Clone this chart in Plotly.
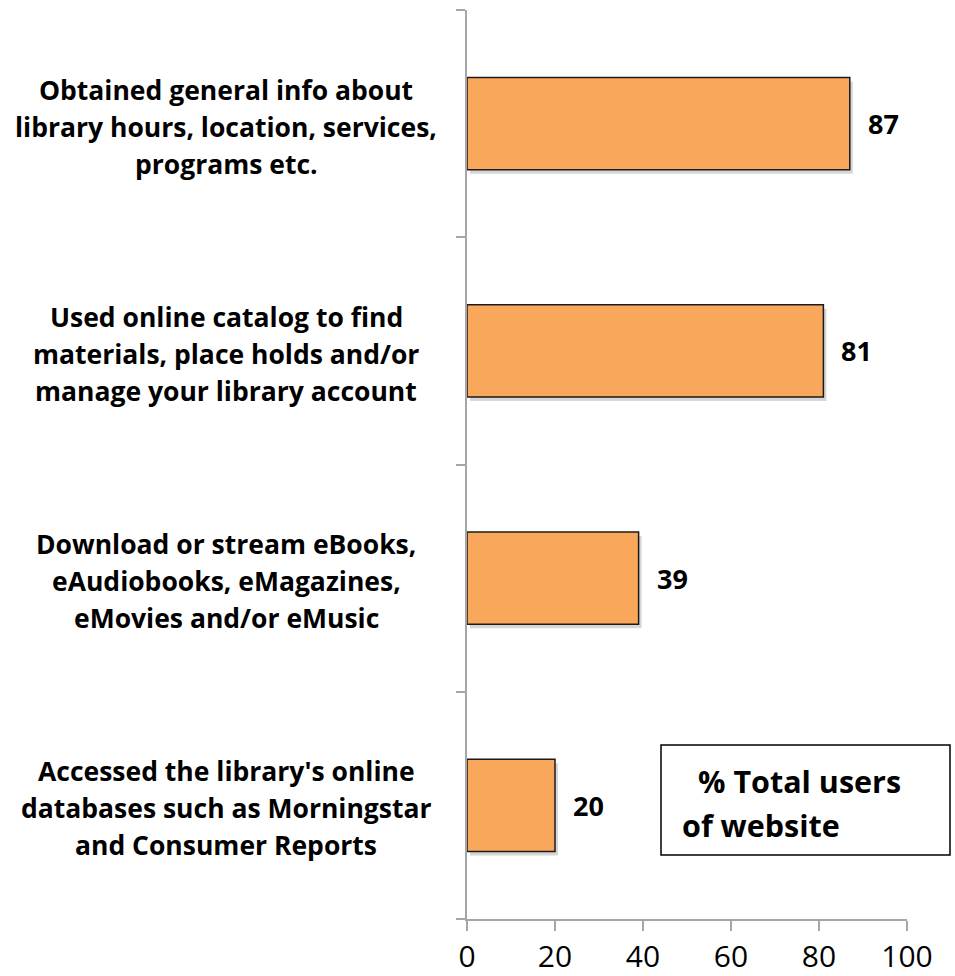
import plotly.graph_objects as go

# Survey results: share of website users doing each activity
categories = [
    ["Obtained general info about", "library hours, location, services,", "programs etc."],
    ["Used online catalog to find", "materials, place holds and/or", "manage your library account"],
    ["Download or stream eBooks,", "eAudiobooks, eMagazines,", "eMovies and/or eMusic"],
    ["Accessed the library's online", "databases such as Morningstar", "and Consumer Reports"],
]
values = [87, 81, 39, 20]
x_ticks = [0, 20, 40, 60, 80, 100]
legend_lines = ["% Total users", "of website"]

W, H = 955, 976
ML, MR, MT, MB = 467, 48, 10, 57
PW = W - ML - MR
PH = H - MT - MB

FONT = "Open Sans"
BAR_COLOR = "#F9A85B"
AXIS_COLOR = "#A6A6A6"
BAR_WIDTH = 0.405

fig = go.Figure()
fig.add_trace(go.Bar(
    x=values,
    y=list(range(len(categories))),
    orientation="h",
    marker=dict(color=BAR_COLOR, line=dict(color="#1a1a1a", width=1.5)),
    width=BAR_WIDTH,
    hoverinfo="skip",
))


def px_to_paper_x(px):
    return (px - ML) / PW


def px_to_paper_y(py):
    return 1 - (py - MT) / PH


annotations = []
# category labels, centered lines to the left of the axis
LINE_STEP = 37
LABEL_DROP = 3
for i, lines in enumerate(categories):
    n = len(lines)
    for j, line in enumerate(lines):
        annotations.append(dict(
            x=px_to_paper_x(226), xref="paper", y=i, yref="y",
            yshift=-(j - (n - 1) / 2) * LINE_STEP - LABEL_DROP,
            text=f"<b>{line}</b>", showarrow=False, align="center",
            xanchor="center", yanchor="middle",
            font=dict(family=FONT, size=26.5, color="black"),
        ))
# value labels at the end of each bar
for i, v in enumerate(values):
    annotations.append(dict(
        x=v, xref="x", y=i, yref="y",
        text=f"<b>{v}</b>", showarrow=False,
        xanchor="left", yanchor="middle", xshift=16,
        font=dict(family=FONT, size=27, color="black"),
    ))
# boxed series label
annotations.append(dict(
    x=px_to_paper_x(696), xref="paper", y=px_to_paper_y(781), yref="paper",
    text=f"<b>{legend_lines[0]}</b>", showarrow=False,
    xanchor="left", yanchor="middle",
    font=dict(family=FONT, size=30.5, color="black"),
))
annotations.append(dict(
    x=px_to_paper_x(680), xref="paper", y=px_to_paper_y(825), yref="paper",
    text=f"<b>{legend_lines[1]}</b>", showarrow=False,
    xanchor="left", yanchor="middle",
    font=dict(family=FONT, size=30.5, color="black"),
))

# soft drop shadow under each bar
dx = 3 * 100 / PW
dy = 4 * len(categories) / PH
shapes = []
for i, v in enumerate(values):
    shapes.append(dict(
        type="rect", xref="x", yref="y", layer="below",
        x0=dx, x1=v + dx,
        y0=i - BAR_WIDTH / 2 + dy, y1=i + BAR_WIDTH / 2 + dy,
        line=dict(width=0), fillcolor="rgba(0,0,0,0.16)",
    ))
shapes.append(dict(
    type="rect", xref="paper", yref="paper",
    x0=px_to_paper_x(661), x1=px_to_paper_x(950),
    y0=px_to_paper_y(855), y1=px_to_paper_y(745),
    line=dict(color="black", width=1.5), fillcolor="white",
))

fig.update_layout(
    width=W, height=H,
    margin=dict(l=ML, r=MR, t=MT, b=MB, autoexpand=False),
    paper_bgcolor="white", plot_bgcolor="white",
    showlegend=False,
    annotations=annotations,
    shapes=shapes,
    xaxis=dict(
        range=[0, 100], tickvals=x_ticks,
        showgrid=False, zeroline=False, automargin=False,
        showline=True, linecolor=AXIS_COLOR, linewidth=2,
        ticks="outside", ticklen=10, tickwidth=2, tickcolor=AXIS_COLOR,
        ticklabelstandoff=0,
        tickfont=dict(family=FONT, size=30, color="black"),
        fixedrange=True,
    ),
    yaxis=dict(
        range=[3.5, -0.5],
        tickvals=[-0.5, 0.5, 1.5, 2.5, 3.5], showticklabels=False,
        showgrid=False, zeroline=False, automargin=False,
        showline=True, linecolor=AXIS_COLOR, linewidth=2,
        ticks="outside", ticklen=9, tickwidth=2, tickcolor=AXIS_COLOR,
        fixedrange=True,
    ),
)

fig.write_html("out.html")
